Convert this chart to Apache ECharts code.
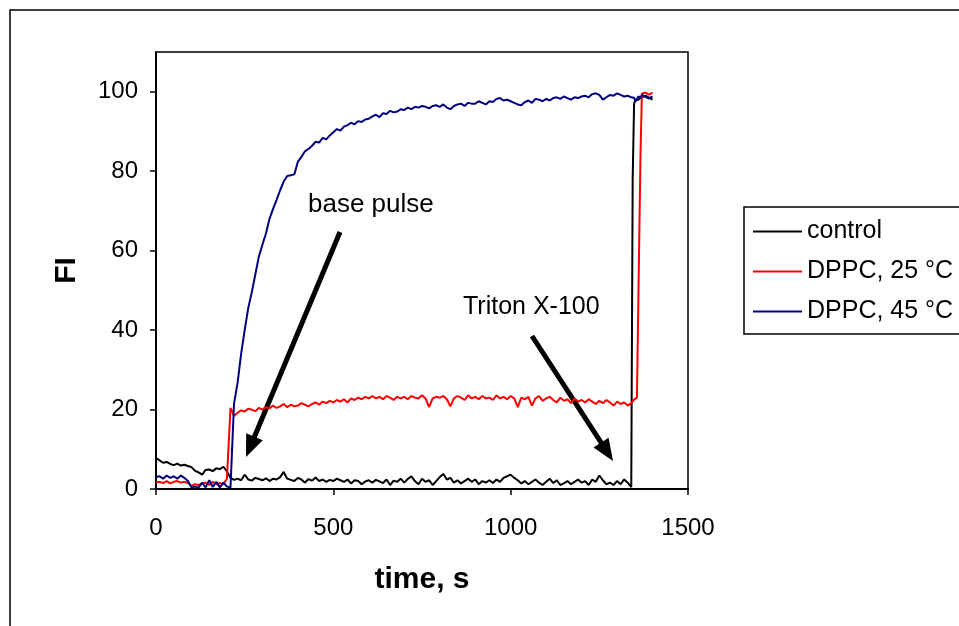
<!DOCTYPE html>
<html>
<head>
<meta charset="utf-8">
<script src="https://cdn.jsdelivr.net/npm/echarts@6/dist/echarts.min.js"></script>
<style>
html,body{margin:0;padding:0;background:#fff;}
#chart{width:959px;height:626px;}
</style>
</head>
<body>
<div id="chart"></div>
<script>
// time axis (s): 0..1340 every 10 s, then finer points around the Triton X-100 step
const timeS = [];
for (let i = 0; i <= 134; i++) timeS.push(i * 10);
const tailTimes = [1344, 1348, 1352, 1356, 1360, 1366, 1370, 1380, 1390, 1400];
const times = timeS.concat(tailTimes);

const seriesNames = ['control', 'DPPC, 25 °C', 'DPPC, 45 °C'];

const controlFI = [
  7.8, 7.2, 6.6, 6.8, 6.3, 6.0, 6.4, 5.9, 6.1, 5.8,
  5.5, 4.6, 4.2, 3.6, 4.8, 4.9, 4.5, 5.2, 5.0, 5.6,
  4.4, 2.8, 2.3, 2.6, 2.2, 3.6, 2.4, 2.1, 2.8, 2.5,
  2.2, 2.7, 2.0, 2.6, 2.4, 3.0, 4.3, 2.6, 2.3, 2.0,
  2.8, 2.4, 1.6, 2.5, 2.1, 2.9, 2.0, 2.4, 1.8, 2.3,
  2.0, 2.6, 2.2, 1.8, 2.4, 1.4, 2.2, 2.0, 1.2, 1.9,
  2.2, 1.6, 2.3, 1.9, 1.5, 2.4, 1.0, 2.1, 1.8, 2.6,
  1.6, 2.5, 3.2, 2.0, 1.2, 2.6, 1.8, 2.2, 1.0, 2.0,
  3.0, 3.8, 2.4, 2.8, 1.6, 2.2, 1.4, 2.0, 2.6, 1.8,
  2.4, 1.2, 2.0, 1.6, 2.2, 1.5, 2.4, 1.8, 2.8, 3.2,
  3.6, 2.8, 2.2, 1.4, 2.0, 1.2, 1.8, 2.4, 1.6, 1.0,
  1.8, 2.6, 1.5, 2.2, 1.0, 1.4, 2.0, 1.2, 1.8, 2.4,
  1.6, 2.0, 1.0, 2.4, 1.8, 3.4, 2.2, 1.2, 1.6, 1.0,
  2.0, 1.2, 2.4, 1.6, 0.5,
  78.0, 97.0, 98.0, 98.5, 98.0, 98.5, 98.0, 99.0, 98.5, 98.0
];

const dppc25FI = [
  1.6, 1.8, 1.5, 2.0, 1.4, 1.8, 2.0, 1.6, 1.8, 1.5,
  0.8, 1.2, 1.0, 1.4, 1.6, 1.0, 1.8, 1.2, 1.5, 1.2,
  2.6, 20.4, 18.4, 19.2, 19.8, 19.5, 20.2, 20.0, 19.6, 20.4,
  20.0, 20.6, 20.3, 21.0, 20.4, 20.8, 21.4, 20.6, 21.2, 20.8,
  21.0, 21.6, 21.2, 20.8, 21.4, 21.8, 21.2, 22.0, 21.6, 22.2,
  21.8, 22.4, 22.0, 22.6, 21.8, 22.8, 22.4, 23.0, 22.6, 23.2,
  22.8, 23.4, 22.8, 23.2, 22.6, 23.4, 23.0, 22.4, 23.2, 22.8,
  23.2, 22.6, 23.4, 23.0, 22.8, 23.6, 22.8, 20.6, 22.8, 23.2,
  23.0, 23.4, 22.6, 20.8, 22.8, 23.4, 23.0, 22.4, 23.6, 22.8,
  23.2, 22.6, 23.4, 22.8, 23.0, 22.4, 23.6, 22.8, 23.2, 22.6,
  23.4, 22.8, 20.6, 23.0, 22.6, 23.2, 21.0, 22.8, 23.4, 22.2,
  22.8, 23.2, 22.4, 21.8, 23.0, 22.2, 22.6, 21.6, 22.8, 22.0,
  22.4, 21.8, 22.6, 22.0, 21.4, 22.2, 21.6, 22.4, 21.8, 21.0,
  22.0, 21.4, 21.8, 21.0, 21.6,
  22.0, 22.5, 22.8, 23.0, 23.5, 84.0, 99.5, 99.8, 99.3, 99.8
];

const dppc45FI = [
  3.0, 3.2, 2.6, 3.4, 2.8, 3.2, 2.6, 3.4, 2.8, 2.0,
  0.4, 0.6, 0.3, 1.6, 0.4, 2.2, 0.5, 1.8, 0.4, 1.6,
  0.6, 0.4, 21.5, 26.7, 34.0, 40.0, 45.5, 49.5, 54.0, 58.5,
  61.5, 64.3, 68.0, 70.5, 72.8, 75.2, 77.4, 78.8, 79.0, 79.2,
  82.4, 83.6, 85.0, 85.6, 86.4, 87.4, 87.2, 88.4, 88.0, 89.0,
  89.8, 90.6, 90.2, 91.2, 91.6, 92.2, 91.8, 92.6, 92.4, 93.0,
  93.2, 93.8, 94.2, 93.6, 94.6, 94.4, 95.2, 94.8, 95.0, 95.6,
  95.4, 96.0, 95.6, 96.2, 96.0, 96.4, 96.2, 95.8, 96.4, 96.6,
  96.2, 96.8, 96.0, 95.6, 96.4, 96.8, 97.0, 96.4, 97.2, 97.0,
  97.0, 97.6, 97.2, 96.8, 97.6, 97.4, 98.2, 98.4, 97.8, 98.0,
  97.6, 97.2, 96.8, 96.6, 97.4, 97.8, 97.2, 98.2, 98.0, 97.6,
  98.2, 97.8, 98.4, 98.6, 98.2, 98.8, 98.4, 98.0, 98.6, 98.4,
  98.8, 99.0, 98.6, 99.4, 99.6, 99.2, 98.0, 98.6, 99.2, 99.0,
  99.6, 99.2, 98.8, 99.0, 98.6,
  99.0, 98.5, 97.5, 98.0, 98.8, 98.5, 99.2, 98.7, 98.3, 98.8
];

const xTicks = [0, 500, 1000, 1500];
const yTicks = [0, 20, 40, 60, 80, 100];

const seriesColors = ['#000000', '#ff0000', '#000080'];
const font = 'Liberation Sans, Arial, sans-serif';

function pairs(vals) { return times.map((t, i) => [t, vals[i]]); }

// arrow geometry helper (pixel positions of annotation arrows)
function arrow(x1, y1, x2, y2) {
  const dx = x2 - x1, dy = y2 - y1, L = Math.hypot(dx, dy);
  const ux = dx / L, uy = dy / L, nx = -uy, ny = ux;
  const hl = 22, hw = 9;
  const bx = x2 - hl * ux, by = y2 - hl * uy;
  return [
    { type: 'line', shape: { x1: x1, y1: y1, x2: bx + ux * 2, y2: by + uy * 2 }, style: { stroke: '#000', lineWidth: 5 } },
    { type: 'polygon', shape: { points: [[x2, y2], [bx + hw * nx, by + hw * ny], [bx - hw * nx, by - hw * ny]] }, style: { fill: '#000' } }
  ];
}

const chart = echarts.init(document.getElementById('chart'), null, { renderer: 'canvas' });
const dataSets = [controlFI, dppc25FI, dppc45FI];

chart.setOption({
  animation: false,
  backgroundColor: '#fff',
  textStyle: { fontFamily: font },
  grid: { left: 156, top: 52, right: 271, bottom: 137, show: true, borderColor: '#000', borderWidth: 1.5, backgroundColor: 'transparent' },
  xAxis: {
    type: 'value', min: 0, max: 1500, interval: 500,
    name: 'time, s', nameLocation: 'middle', nameGap: 76,
    nameTextStyle: { fontSize: 30, fontWeight: 'bold', color: '#000', fontFamily: font },
    axisLine: { show: true, lineStyle: { color: '#000', width: 2 } },
    axisTick: { show: true, length: 6, lineStyle: { color: '#000', width: 1.5 }, customValues: xTicks },
    axisLabel: { fontSize: 24, color: '#000', margin: 27, fontFamily: font, customValues: xTicks, formatter: v => String(v) },
    splitLine: { show: false }
  },
  yAxis: {
    type: 'value', min: 0, max: 110, interval: 20,
    name: 'FI', nameLocation: 'middle', nameGap: 74, nameRotate: 90,
    nameTextStyle: { fontSize: 30, fontWeight: 'bold', color: '#000', fontFamily: font },
    axisLine: { show: true, lineStyle: { color: '#000', width: 2 } },
    axisTick: { show: true, length: 6, lineStyle: { color: '#000', width: 1.5 }, customValues: yTicks },
    axisLabel: { fontSize: 24, color: '#000', margin: 18, fontFamily: font, customValues: yTicks, formatter: v => String(v) },
    splitLine: { show: false }
  },
  legend: {
    orient: 'vertical', left: 753, top: 219, padding: 0,
    icon: 'rect', itemWidth: 49, itemHeight: 2, itemGap: 15,
    textStyle: { fontSize: 25, color: '#000', fontFamily: font },
    data: seriesNames
  },
  series: seriesNames.map((n, k) => ({
    name: n, type: 'line', showSymbol: false, symbol: 'none',
    data: pairs(dataSets[k]),
    lineStyle: { color: seriesColors[k], width: 2 },
    itemStyle: { color: seriesColors[k] },
    z: 2 + k
  })),
  graphic: [
    { type: 'rect', shape: { x: 10, y: 10, width: 1200, height: 1200 }, style: { fill: 'none', stroke: '#000', lineWidth: 1.5 }, z: 0 },
    { type: 'rect', shape: { x: 744, y: 207, width: 400, height: 127 }, style: { fill: 'none', stroke: '#000', lineWidth: 1.5 }, z: 0 },
    { type: 'text', x: 308, y: 205, style: { text: 'base pulse', font: '26px ' + font, fill: '#000', textVerticalAlign: 'middle' } },
    { type: 'text', x: 463, y: 307, style: { text: 'Triton X-100', font: '25px ' + font, fill: '#000', textVerticalAlign: 'middle' } }
  ].concat(arrow(340, 232, 246, 457), arrow(532, 336, 613, 461))
});
</script>
</body>
</html>
